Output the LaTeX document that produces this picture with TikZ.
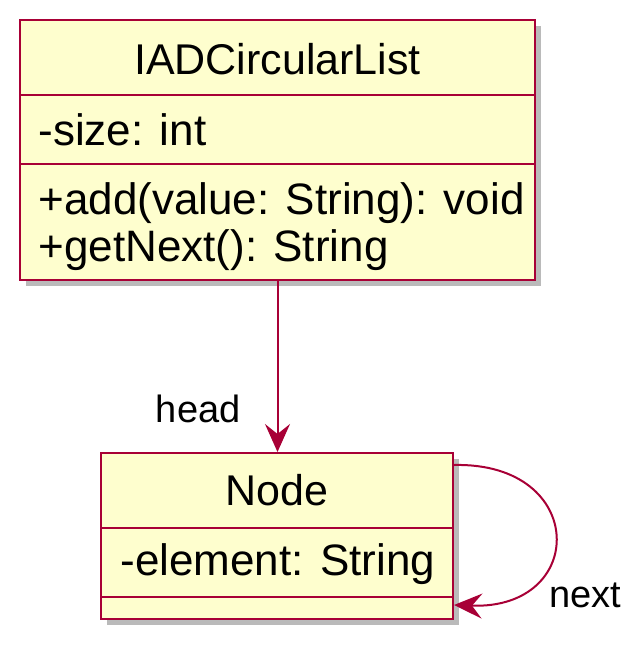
\documentclass[tikz,border=0pt]{standalone}
\usepackage{fontspec}
\setmainfont{Liberation Sans}
\usepackage{xcolor}
\usepackage{tikz}
\usetikzlibrary{arrows.meta,positioning,shadows}
\definecolor{umlfill}{HTML}{FEFECE}
\definecolor{umlline}{HTML}{A80036}
\tikzset{
    classbox/.style={
        draw=umlline,
        line width=1pt,
        fill=umlfill,
        drop shadow={shadow xshift=3pt, shadow yshift=-3pt, fill=black!60, opacity=0.45}
    },
    classtitle/.style={
        anchor=base,
        font=\fontsize{21.5}{26}\selectfont,
        inner sep=0pt
    },
    member/.style={
        anchor=base west,
        font=\fontsize{22}{26}\selectfont,
        inner sep=0pt
    },
    divider/.style={
        draw=umlline,
        line width=1pt
    },
    assoc/.style={
        draw=umlline,
        line width=1pt,
        -{Stealth[length=14pt,width=12.5pt,inset=5pt]}
    },
    rolelabel/.style={
        font=\fontsize{19}{23}\selectfont,
        inner sep=0pt
    }
}

\begin{document}
\begin{tikzpicture}[x=0.5pt,y=-0.5pt]
        \useasboundingbox (0,0) rectangle (643,657);

        % IADCircularList
        \node[classbox, minimum width=257.5pt, minimum height=130pt] (list) at (277.5,150) {};
        \node[classtitle] (listname) at (277.5,75) {IADCircularList};
        \coordinate (listsep1) at (0,95);
        \coordinate (listsep2) at (0,164);
        \draw[divider] (list.west |- listsep1) -- (list.east |- listsep1);
        \draw[divider] (list.west |- listsep2) -- (list.east |- listsep2);
        \node[member] (size) at (38,146) {-size: int};
        \node[member] (add) at (38,215) {+add(value: String): void};
        \node[member] (getnext) at (38,262) {+getNext(): String};

        % Node
        \node[classbox, minimum width=176pt, minimum height=83pt] (node) at (277,536) {};
        \node[classtitle] (nodename) at (277,505) {Node};
        \coordinate (nodesep1) at (0,528);
        \coordinate (nodesep2) at (0,597);
        \draw[divider] (node.west |- nodesep1) -- (node.east |- nodesep1);
        \draw[divider] (node.west |- nodesep2) -- (node.east |- nodesep2);
        \node[member] (element) at (120,575) {-element: String};

        % associations
        \draw[assoc] (list.south) -- node[rolelabel, pos=0.75, left=18pt] (head) {head} (list.south |- node.north);

        \coordinate (loopout) at (0,465);
        \coordinate (loopin) at (0,605);
        \draw[assoc] (node.east |- loopout) .. controls (588,462) and (588,610) .. node[rolelabel, pos=1, anchor=base west, xshift=47pt, yshift=-1pt] (next) {next} (node.east |- loopin);
    \end{tikzpicture}
\end{document}
